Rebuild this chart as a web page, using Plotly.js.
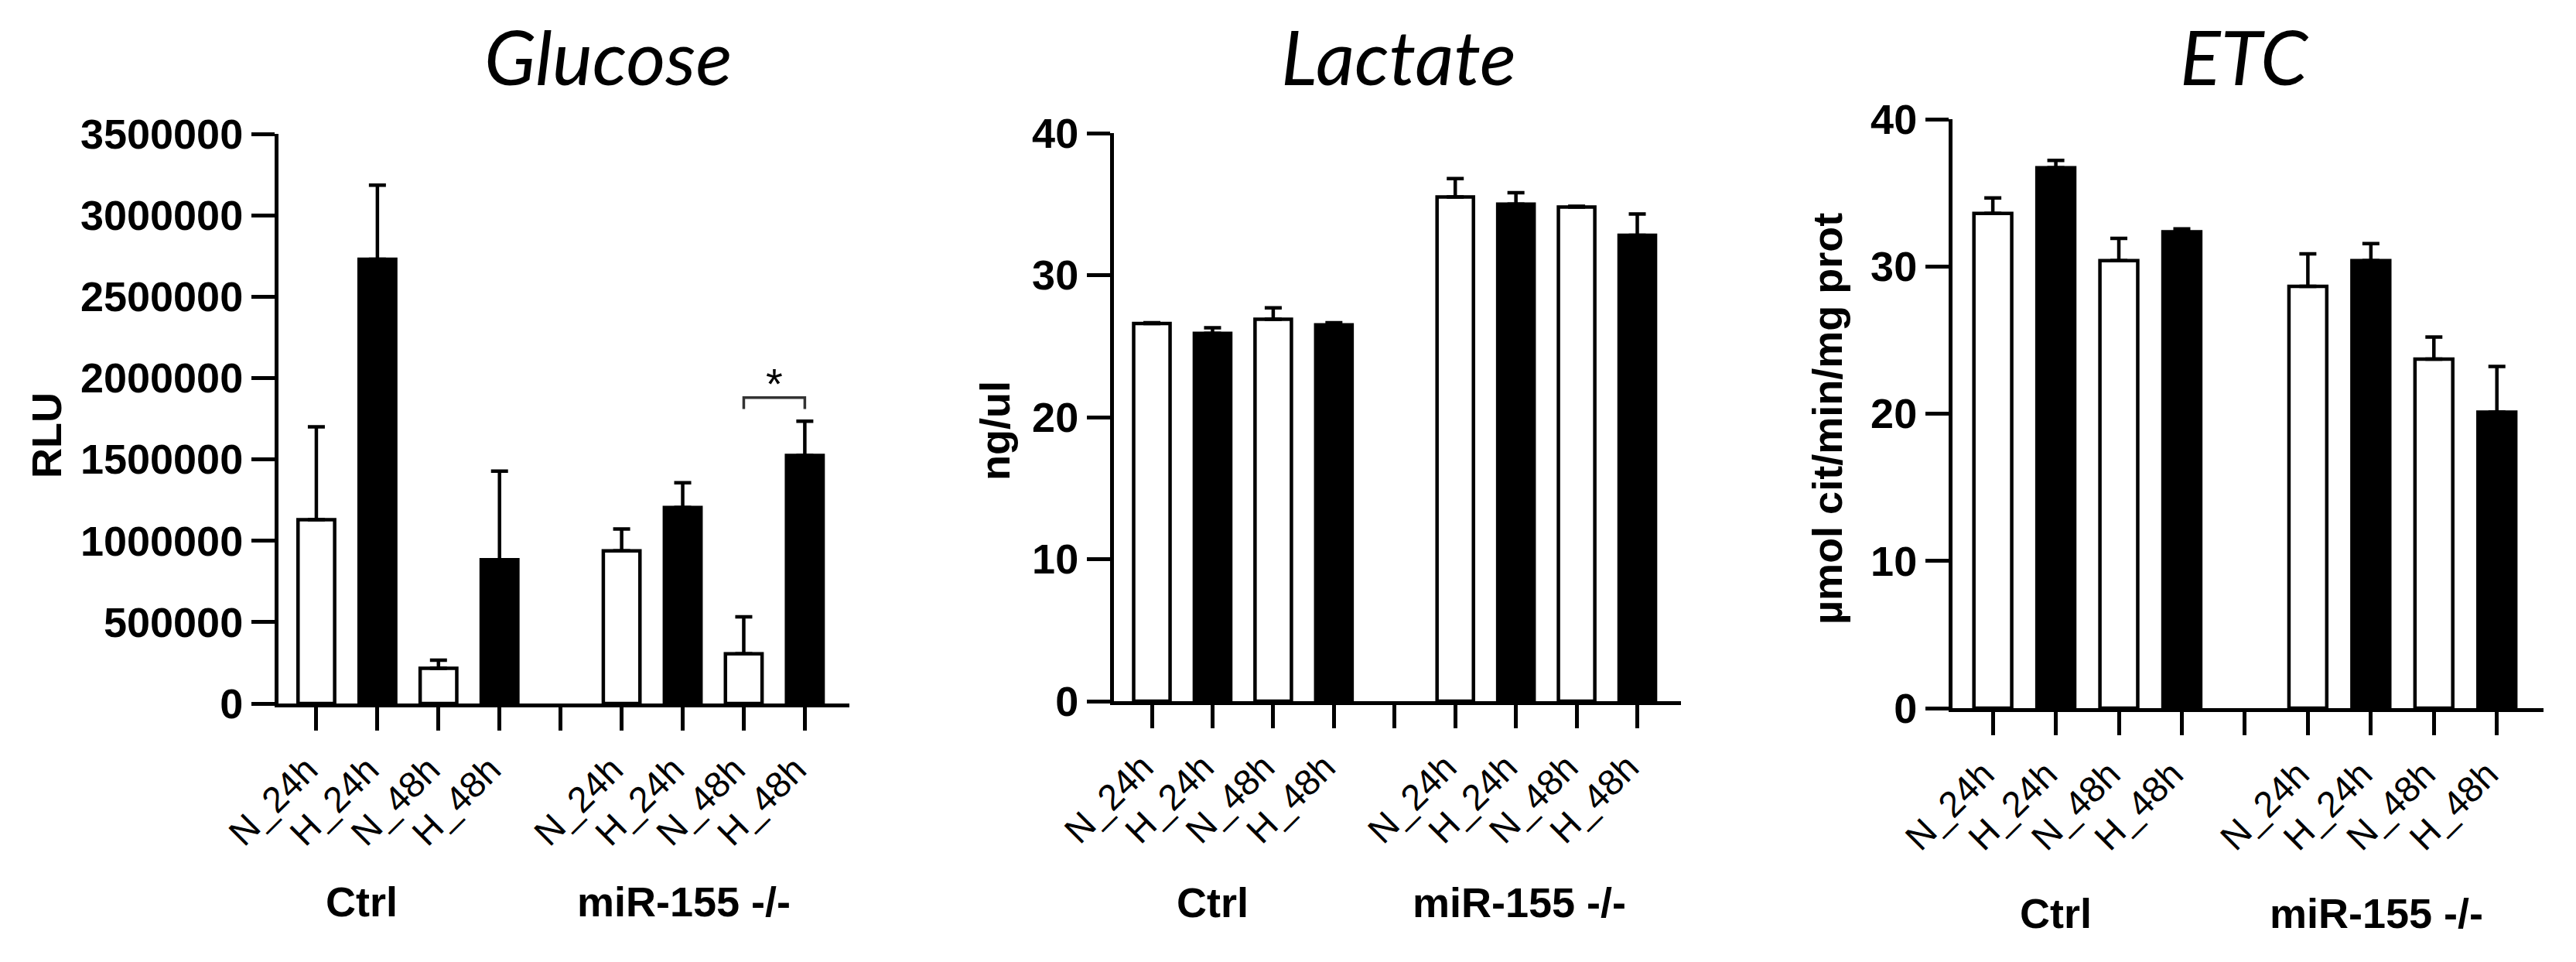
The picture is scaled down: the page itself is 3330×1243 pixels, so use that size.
<!DOCTYPE html>
<html>
<head>
<meta charset="utf-8">
<script src="https://cdn.plot.ly/plotly-3.0.1.min.js"></script>
<style>html,body{margin:0;padding:0;background:#fff;}#chart{width:3330px;height:1243px;}</style>
</head>
<body>
<div id="chart"></div>
<script>
// ---------- DATA ----------
const categories = ["N_24h", "H_24h", "N_48h", "H_48h", "", "N_24h", "H_24h", "N_48h", "H_48h"];
const groupLabels = ["Ctrl", "miR-155 -/-"];
const panelTitles = ["Glucose", "Lactate", "ETC"];
const yAxisTitles = ["RLU", "ng/ul", "µmol cit/min/mg prot"];

const glucoseMean = [1130000, 2730000, 216000, 883000, null, 938000, 1204000, 305000, 1524000];
const glucoseErr  = [570000, 455000, 50000, 545000, null, 134000, 152000, 228000, 211000];

const lactateMean = [26.6, 25.9, 26.9, 26.5, null, 35.5, 35.0, 34.8, 32.8];
const lactateErr  = [0.05, 0.4, 0.8, 0.15, null, 1.3, 0.8, 0.05, 1.5];

const etcMean = [33.6, 36.7, 30.4, 32.35, null, 28.65, 30.4, 23.7, 20.1];
const etcErr  = [1.05, 0.5, 1.5, 0.2, null, 2.2, 1.15, 1.5, 3.1];

const glucoseTicks = [0, 500000, 1000000, 1500000, 2000000, 2500000, 3000000, 3500000];
const lactateTicks = [0, 10, 20, 30, 40];
const etcTicks = [0, 10, 20, 30, 40];

// significance: glucose, miR-155 -/- N_48h vs H_48h
const sigPair = [7, 8];
const sigLevel = 1880000;
const sigLabel = "*";

// ---------- LAYOUT / STYLE ----------
const W = 3330, H = 1243;
const FONT = "Liberation Sans, Arial, sans-serif";
const idx = categories.map((c, i) => i);
const barColors = categories.map(c => c.startsWith("H") ? "#000000" : "#ffffff");

const panels = [
  {mean: glucoseMean, err: glucoseErr, ticks: glucoseTicks, range: [0, 3500000],
   px: [360, 1098], py: [909, 173], xr: [-0.62, 8.73],
   titleX: 786, yTitleX: 60, yTitleY: 563, groupX: [0.74, 6.02], groupY: 1165},
  {mean: lactateMean, err: lactateErr, ticks: lactateTicks, range: [0, 40],
   px: [1440, 2173], py: [906, 172], xr: [-0.625, 8.72],
   titleX: 1808, yTitleX: 1286, yTitleY: 557, groupX: [1.0, 6.05], groupY: 1166},
  {mean: etcMean, err: etcErr, ticks: etcTicks, range: [0, 40],
   px: [2524, 3288], py: [915, 154], xr: [-0.64, 8.74],
   titleX: 2901, yTitleX: 2362, yTitleY: 541, groupX: [1.0, 6.09], groupY: 1180}
];

const data = [];
const layout = {
  width: W, height: H, autosize: false,
  margin: {l: 0, r: 0, t: 0, b: 0, pad: 0},
  paper_bgcolor: "#ffffff", plot_bgcolor: "#ffffff",
  showlegend: false,
  annotations: [], shapes: []
};

panels.forEach((p, k) => {
  const n = k === 0 ? "" : String(k + 1);
  data.push({
    type: "bar",
    x: idx, y: p.mean,
    xaxis: "x" + n, yaxis: "y" + n,
    width: 0.6,
    marker: {color: barColors, line: {color: "#000", width: 4.5}},
    error_y: {type: "data", symmetric: false, array: p.err, arrayminus: p.err.map(() => 0),
              color: "#000", thickness: 4.5, width: 11},
    hoverinfo: "skip"
  });
  layout["xaxis" + n] = {
    domain: [p.px[0] / W, p.px[1] / W],
    anchor: "y" + n,
    range: p.xr, type: "linear",
    tickmode: "array", tickvals: idx, ticktext: categories,
    tickangle: -45, ticklabelshift: -12, ticklabelstandoff: 4,
    ticks: "outside", ticklen: 30, tickwidth: 5, tickcolor: "#000",
    showline: true, linewidth: 5, linecolor: "#000",
    showgrid: false, zeroline: false, automargin: false,
    tickfont: {family: FONT, size: 47, color: "#000"}
  };
  layout["yaxis" + n] = {
    domain: [1 - p.py[0] / H, 1 - p.py[1] / H],
    anchor: "x" + n,
    range: p.range,
    tickmode: "array", tickvals: p.ticks, ticktext: p.ticks.map(String),
    ticks: "outside", ticklen: 30, tickwidth: 5, tickcolor: "#000",
    showline: true, linewidth: 5, linecolor: "#000",
    showgrid: false, zeroline: false, automargin: false,
    tickfont: {family: FONT, size: 54, color: "#000", weight: 700}
  };
  // panel title
  layout.annotations.push({
    xref: "paper", yref: "paper", x: p.titleX / W, y: 1 - 72 / H,
    xanchor: "center", yanchor: "middle", showarrow: false,
    text: panelTitles[k],
    font: {family: "Lato, Open Sans, sans-serif", size: 98, style: "italic", color: "#000"}
  });
  // y-axis title
  layout.annotations.push({
    xref: "paper", yref: "paper", x: p.yTitleX / W, y: 1 - p.yTitleY / H,
    xanchor: "center", yanchor: "middle", showarrow: false, textangle: -90,
    text: yAxisTitles[k],
    font: {family: FONT, size: 54, weight: 700, color: "#000"}
  });
  // group labels
  groupLabels.forEach((g, j) => {
    layout.annotations.push({
      xref: "x" + n, yref: "paper", x: p.groupX[j], y: 1 - p.groupY / H,
      xanchor: "center", yanchor: "middle", showarrow: false,
      text: g,
      font: {family: FONT, size: 54, weight: 700, color: "#000"}
    });
  });
});

// significance bracket on Glucose
const legDrop = 70000;
layout.shapes.push({
  type: "path", xref: "x", yref: "y",
  path: `M ${sigPair[0]},${sigLevel - legDrop} L ${sigPair[0]},${sigLevel} L ${sigPair[1]},${sigLevel} L ${sigPair[1]},${sigLevel - legDrop}`,
  line: {color: "#333", width: 3.5}
});
layout.annotations.push({
  xref: "x", yref: "y", x: (sigPair[0] + sigPair[1]) / 2, y: sigLevel + 86000,
  xanchor: "center", yanchor: "middle", showarrow: false,
  text: sigLabel, font: {family: FONT, size: 56, color: "#000"}
});

Plotly.newPlot("chart", data, layout, {staticPlot: true, displayModeBar: false});
</script>
</body>
</html>
